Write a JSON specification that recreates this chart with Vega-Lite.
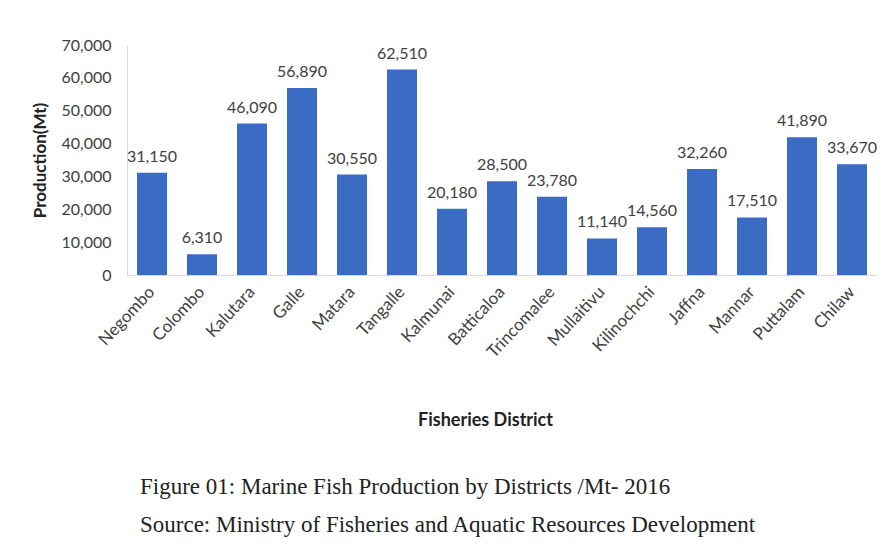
{
  "$schema": "https://vega.github.io/schema/vega-lite/v6.json",
  "width": 750,
  "height": 230,
  "autosize": {"type": "none"},
  "padding": {"left": 127, "top": 45, "right": 9, "bottom": 274},
  "background": "white",
  "data": {
    "values": [
      {"district": "Negombo", "production": 31150},
      {"district": "Colombo", "production": 6310},
      {"district": "Kalutara", "production": 46090},
      {"district": "Galle", "production": 56890},
      {"district": "Matara", "production": 30550},
      {"district": "Tangalle", "production": 62510},
      {"district": "Kalmunai", "production": 20180},
      {"district": "Batticaloa", "production": 28500},
      {"district": "Trincomalee", "production": 23780},
      {"district": "Mullaitivu", "production": 11140},
      {"district": "Kilinochchi", "production": 14560},
      {"district": "Jaffna", "production": 32260},
      {"district": "Mannar", "production": 17510},
      {"district": "Puttalam", "production": 41890},
      {"district": "Chilaw", "production": 33670}
    ]
  },
  "title": {
    "text": ["Figure 01: Marine Fish Production by Districts /Mt- 2016", "Source: Ministry of Fisheries and Aquatic Resources Development"],
    "orient": "bottom",
    "anchor": "start",
    "frame": "group",
    "dx": 13,
    "offset": 47,
    "font": "Liberation Serif",
    "fontSize": 23,
    "fontWeight": "normal",
    "color": "#222222",
    "lineHeight": 38,
    "baseline": "top"
  },
  "encoding": {
    "x": {
      "field": "district",
      "type": "nominal",
      "sort": null,
      "scale": {"paddingInner": 0.4, "paddingOuter": 0.2},
      "axis": {
        "title": "Fisheries District",
        "titleFont": "Lato",
        "titleFontSize": 18,
        "titleFontWeight": "bold",
        "titleColor": "#222222",
        "titleY": 145,
        "titleBaseline": "middle",
        "titleX": 358,
        "labelAngle": -47,
        "labelAlign": "right",
        "labelBaseline": "middle",
        "labelPadding": 14,
        "labelFont": "Lato",
        "labelFontSize": 17,
        "labelColor": "#404040",
        "ticks": false,
        "domainColor": "#d9d9d9",
        "labelOverlap": false
      }
    },
    "y": {
      "field": "production",
      "type": "quantitative",
      "scale": {"domain": [0, 70000]},
      "axis": {
        "title": "Production(Mt)",
        "titleFont": "Lato",
        "titleFontSize": 17,
        "titleFontWeight": "bold",
        "titleColor": "#222222",
        "titleX": -87,
        "titleY": 115,
        "titleBaseline": "middle",
        "values": [0, 10000, 20000, 30000, 40000, 50000, 60000, 70000],
        "format": ",d",
        "grid": false,
        "ticks": false,
        "labelPadding": 16,
        "labelFont": "Lato",
        "labelFontSize": 16,
        "labelColor": "#404040",
        "domainColor": "#d9d9d9"
      }
    }
  },
  "layer": [
    {"mark": {"type": "bar", "color": "#3b6cc4"}},
    {
      "mark": {"type": "text", "dy": -16, "font": "Lato", "fontSize": 16, "color": "#404040"},
      "encoding": {"text": {"field": "production", "type": "quantitative", "format": ",d"}}
    }
  ],
  "config": {"view": {"stroke": null}}
}
